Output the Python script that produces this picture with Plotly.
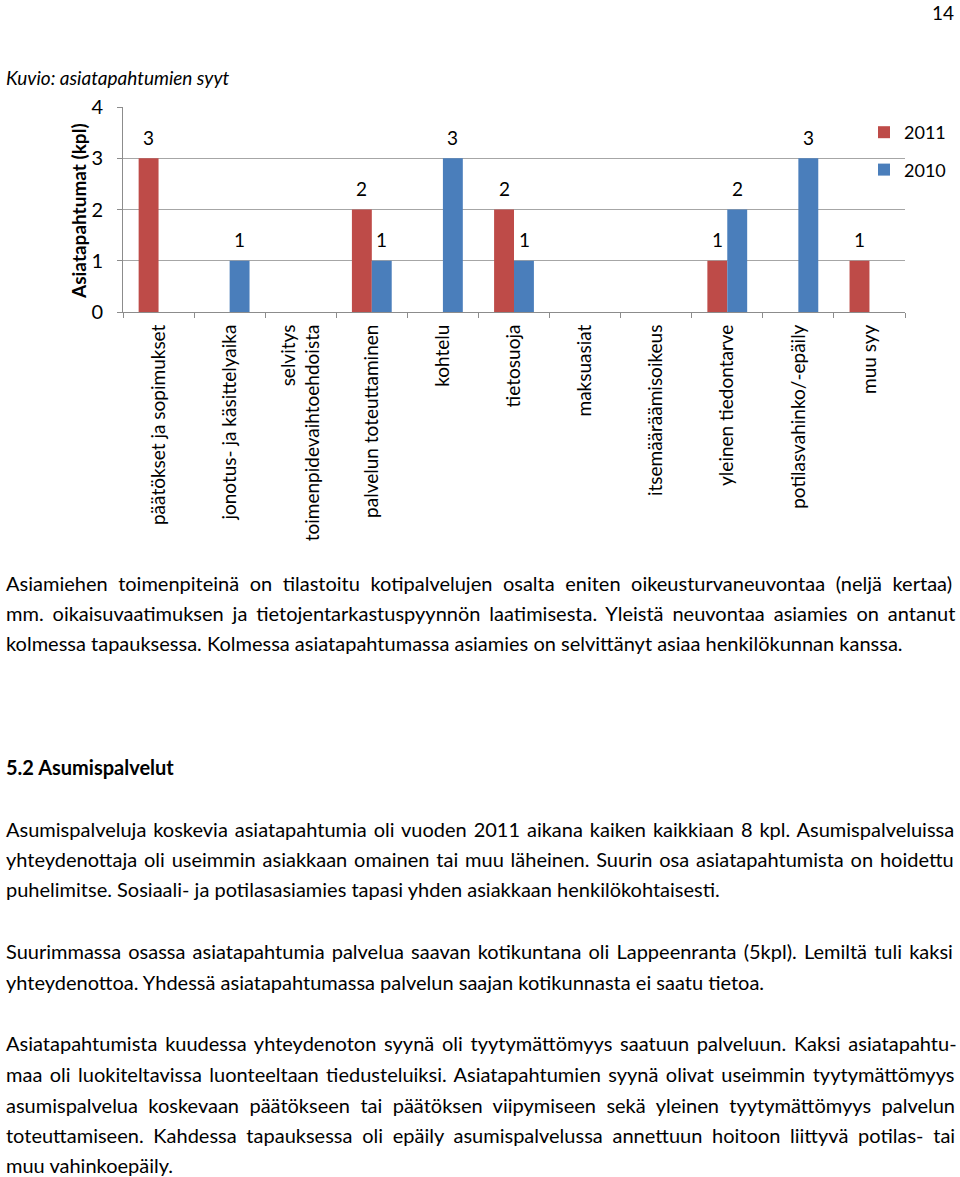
import plotly.graph_objects as go

categories = [
    "päätökset ja sopimukset",
    "jonotus- ja käsittelyaika",
    "selvitys<br>toimenpidevaihtoehdoista",
    "palvelun toteuttaminen",
    "kohtelu",
    "tietosuoja",
    "maksuasiat",
    "itsemääräämisoikeus",
    "yleinen tiedontarve",
    "potilasvahinko/-epäily",
    "muu syy",
]
values_2011 = [3, 0, 0, 2, 0, 2, 0, 0, 1, 0, 1]
values_2010 = [0, 1, 0, 1, 3, 1, 0, 0, 2, 3, 0]
y_ticks = [0, 1, 2, 3, 4]

body_text = [
    "Asiamiehen toimenpiteinä on tilastoitu kotipalvelujen osalta eniten oikeusturvaneuvontaa (neljä kertaa)",
    "mm. oikaisuvaatimuksen ja tietojentarkastuspyynnön laatimisesta. Yleistä neuvontaa asiamies on antanut",
    "kolmessa tapauksessa. Kolmessa asiatapahtumassa asiamies on selvittänyt asiaa henkilökunnan kanssa.",
    "<b>5.2 Asumispalvelut</b>",
    "Asumispalveluja koskevia asiatapahtumia oli vuoden 2011 aikana kaiken kaikkiaan 8 kpl. Asumispalveluissa",
    "yhteydenottaja oli useimmin asiakkaan omainen tai muu läheinen. Suurin osa asiatapahtumista on hoidettu",
    "puhelimitse. Sosiaali- ja potilasasiamies tapasi yhden asiakkaan henkilökohtaisesti.",
    "Suurimmassa osassa asiatapahtumia palvelua saavan kotikuntana oli Lappeenranta (5kpl). Lemiltä tuli kaksi",
    "yhteydenottoa. Yhdessä asiatapahtumassa palvelun saajan kotikunnasta ei saatu tietoa.",
    "Asiatapahtumista kuudessa yhteydenoton syynä oli tyytymättömyys saatuun palveluun. Kaksi asiatapahtu-",
    "maa oli luokiteltavissa luonteeltaan tiedusteluiksi. Asiatapahtumien syynä olivat useimmin tyytymättömyys",
    "asumispalvelua koskevaan päätökseen tai päätöksen viipymiseen sekä yleinen tyytymättömyys palvelun",
    "toteuttamiseen. Kahdessa tapauksessa oli epäily asumispalvelussa annettuun hoitoon liittyvä potilas- tai",
    "muu vahinkoepäily.",
]
# layout of the text lines (page y centre in px) and justification word spacing (px)
body_y = [583, 613, 643, 767, 829, 859, 889, 951, 982, 1043, 1074, 1105, 1135, 1165]
body_wordspacing = [5.4, 3.8, 0, 0, 1.8, 1.7, 0, 2.0, 0, 2.6, 2.3, 5.3, 4.6, 0]

W, H = 960, 1177
CHART_FONT = "Lato, Carlito, Open Sans, sans-serif"
BODY_FONT = "Lato, Liberation Sans, sans-serif"

RED = "#BE4B48"
BLUE = "#4A7EBB"


def px(xp):
    return xp / W


def py(yp):
    return 1 - yp / H


fig = go.Figure()
fig.add_trace(go.Bar(x=categories, y=values_2011, name="2011",
                     marker=dict(color=RED, line=dict(width=0)),
                     legendgroup="a"))
fig.add_trace(go.Bar(x=categories, y=values_2010, name="2010",
                     marker=dict(color=BLUE, line=dict(width=0)),
                     legendgroup="b"))

annotations = []
# data labels
for vals, shift in ((values_2011, -10), (values_2010, 10)):
    for c, v in zip(categories, vals):
        if v:
            annotations.append(dict(x=c, y=v, xref="x", yref="y", text=str(v),
                                    showarrow=False, xshift=shift, yshift=21,
                                    xanchor="center", yanchor="middle",
                                    font=dict(family=CHART_FONT, size=19, color="black")))

# axis title
annotations.append(dict(x=px(79), y=py(211), xref="paper", yref="paper",
                        xanchor="center", yanchor="middle",
                        text="<b>Asiatapahtumat (kpl)</b>", textangle=-90, showarrow=False,
                        font=dict(family=CHART_FONT, size=19, color="black")))
# page number
annotations.append(dict(x=px(956), y=py(12), xref="paper", yref="paper",
                        xanchor="right", yanchor="middle",
                        text="14", showarrow=False,
                        font=dict(family=CHART_FONT, size=19, color="black")))
# figure caption
annotations.append(dict(x=px(4), y=py(77), xref="paper", yref="paper",
                        xanchor="left", yanchor="middle",
                        text="<i>Kuvio: asiatapahtumien syyt</i>", showarrow=False,
                        font=dict(family=CHART_FONT, size=19, color="black")))

for ypx, t, ws in zip(body_y, body_text, body_wordspacing):
    txt = t if not ws else '<span style="word-spacing:%gpx">%s</span>' % (ws, t)
    annotations.append(dict(x=px(4), y=py(ypx), xref="paper", yref="paper", xanchor="left",
                            yanchor="middle", text=txt, showarrow=False,
                            font=dict(family=BODY_FONT, size=20, color="black")))

fig.update_layout(
    width=W, height=H, autosize=False,
    margin=dict(l=0, r=0, t=0, b=0, pad=0),
    paper_bgcolor="white", plot_bgcolor="white",
    barmode="group", bargap=0.44, bargroupgap=0,
    showlegend=True,
    legend=dict(x=px(864), y=py(114), xanchor="left", yanchor="top",
                bgcolor="rgba(0,0,0,0)", traceorder="grouped", tracegroupgap=11,
                font=dict(family=CHART_FONT, size=18, color="black"),
                itemwidth=30),
    xaxis=dict(domain=[px(123), px(905)], type="category", automargin=False,
               showline=True, linecolor="#8C8C8C", linewidth=1,
               ticks="outside", tickson="boundaries", ticklen=5, tickcolor="#8C8C8C",
               tickangle=-90, showgrid=False, ticklabelstandoff=4,
               tickfont=dict(family=CHART_FONT, size=19, color="black"),
               anchor="y"),
    yaxis=dict(domain=[py(312), py(107)], range=[0, 4], tickvals=y_ticks, automargin=False,
               showline=True, linecolor="#8C8C8C", linewidth=1,
               ticks="outside", ticklen=5, tickcolor="#8C8C8C",
               showgrid=True, gridcolor="#A6A6A6", gridwidth=1,
               zeroline=False, ticklabelstandoff=10,
               tickfont=dict(family=CHART_FONT, size=20, color="black")),
    annotations=annotations,
)

fig.write_html("out.html", config={"displayModeBar": False},
               post_script="document.body.style.margin='0px';")
